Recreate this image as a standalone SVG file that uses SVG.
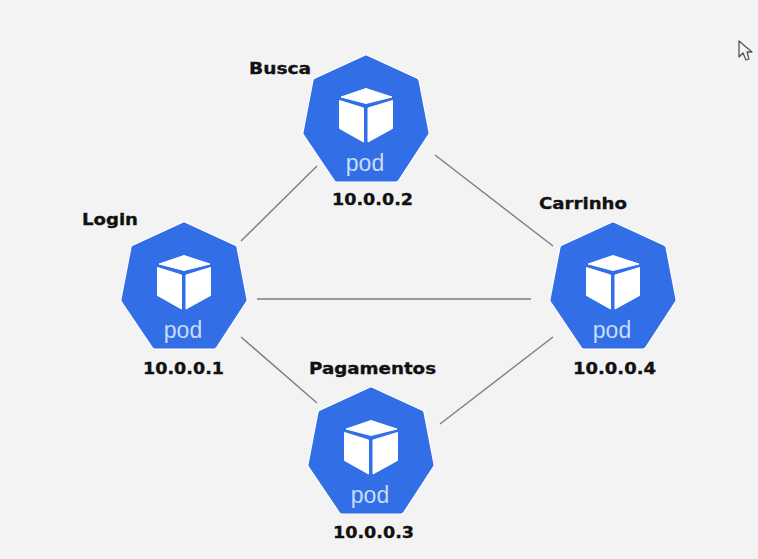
<svg xmlns="http://www.w3.org/2000/svg" width="758" height="559" viewBox="0 0 758 559">
<style>
.edge{fill:#fff;stroke:#fff;stroke-width:7;stroke-linejoin:round}
.hex{fill:#326ee6;stroke:#326ee6;stroke-width:5;stroke-linejoin:round}
.cube{fill:#fff;stroke:#fff;stroke-width:1;stroke-linejoin:round}
.pod{font-family:"Liberation Sans",Arial,sans-serif;font-size:23px;fill:#c9dcf8;text-anchor:middle}
.lbl{font-family:"DejaVu Sans",sans-serif;font-weight:700;font-size:16.500px;fill:#111;stroke:#111;stroke-width:.35}
.conn line{stroke:#7d7d7d;stroke-width:1.4}
</style>
<defs>
<g id="pod">
<path class="edge" d="M0 3 L50 26 L60 78 L30 124 L-29 124 L-60 78 L-50 26 Z"/>
<path class="hex" d="M0 3 L50 26 L60 78 L30 124 L-29 124 L-60 78 L-50 26 Z"/>
<path class="cube" d="M0 33.500 L26 42 L0 48.500 L-25 42 Z"/>
<path class="cube" d="M-26.500 45.500 L-2.500 53 L-2.500 87 L-26.500 73.500 Z"/>
<path class="cube" d="M2 87 L2 53 L26.500 45.500 L26.500 73.500 Z"/>
<text class="pod" x="-1" y="116">pod</text>
</g>
</defs>
<rect width="758" height="559" fill="#f3f3f3"/>
<g id="connectors" class="conn">
<line x1="317" y1="166" x2="241" y2="241"/>
<line x1="435" y1="155" x2="553" y2="246"/>
<line x1="257" y1="299" x2="531" y2="299"/>
<line x1="241" y1="337" x2="317" y2="403"/>
<line x1="553" y1="337" x2="440" y2="424"/>
</g>
<g id="node-busca">
<use href="#pod" x="366" y="55"/>
<text class="lbl" x="249" y="74" textLength="62" lengthAdjust="spacingAndGlyphs">Busca</text>
<text class="lbl" x="332" y="205" textLength="81" lengthAdjust="spacingAndGlyphs">10.0.0.2</text>
</g>
<g id="node-login">
<use href="#pod" x="184" y="222"/>
<text class="lbl" x="82" y="225" textLength="56" lengthAdjust="spacingAndGlyphs">Login</text>
<text class="lbl" x="143" y="374" textLength="81" lengthAdjust="spacingAndGlyphs">10.0.0.1</text>
</g>
<g id="node-carrinho">
<use href="#pod" x="613" y="222"/>
<text class="lbl" x="539" y="209" textLength="88" lengthAdjust="spacingAndGlyphs">Carrinho</text>
<text class="lbl" x="573" y="374" textLength="83" lengthAdjust="spacingAndGlyphs">10.0.0.4</text>
</g>
<g id="node-pagamentos">
<use href="#pod" x="371" y="387"/>
<text class="lbl" x="309" y="374" textLength="127" lengthAdjust="spacingAndGlyphs">Pagamentos</text>
<text class="lbl" x="333" y="538" textLength="81" lengthAdjust="spacingAndGlyphs">10.0.0.3</text>
</g>
<path id="cursor" d="M739 41 L739 57 L743 53 L746 60 L749 59 L747 52 L752 52 Z" fill="#f3f3f3" stroke="#555" stroke-width="1.3" stroke-linejoin="round"/>
</svg>
